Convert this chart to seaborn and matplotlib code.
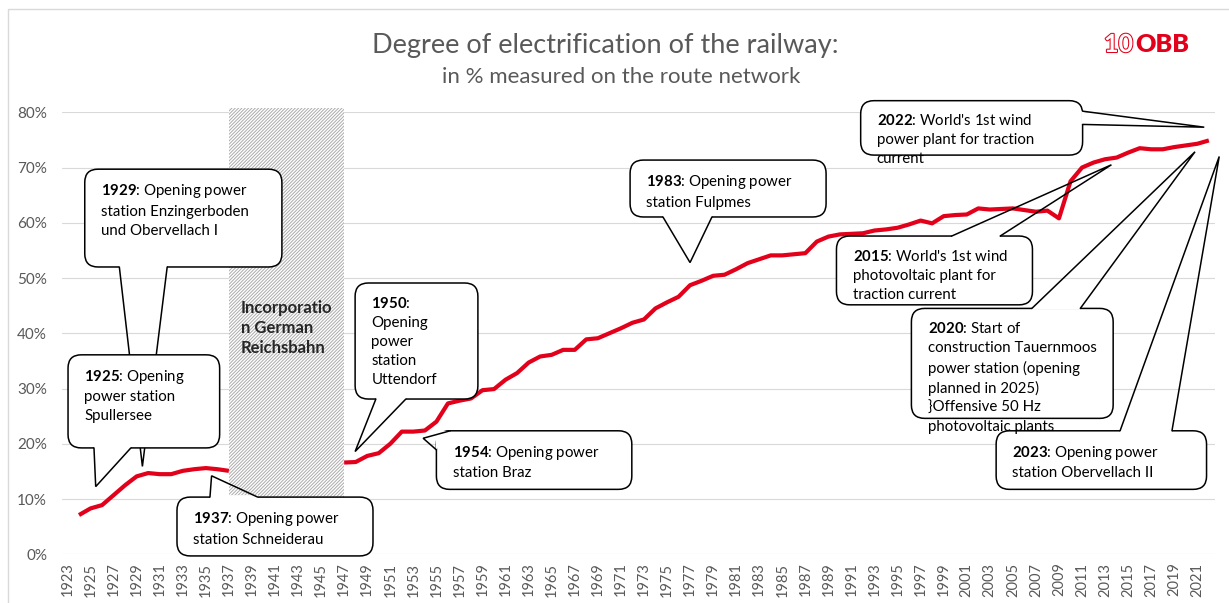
import matplotlib.pyplot as plt
import seaborn as sns
import pandas as pd
import numpy as np
from matplotlib.patches import FancyBboxPatch, Rectangle, Polygon
import matplotlib.patheffects as pe

sns.set_style("white")
plt.rcParams["font.family"] = ["Lato", "DejaVu Sans"]
plt.rcParams["mathtext.fontset"] = "custom"
plt.rcParams["mathtext.rm"] = "Lato"
plt.rcParams["mathtext.bf"] = "Lato:bold"
plt.rcParams["hatch.linewidth"] = 0.7

RED = "#E2001A"
GREY = "#595959"

# Elektrifizierungsgrad in % (None = keine Daten)
years = list(range(1923, 2023))
share = [
    None, 7.1, 8.3, 8.9, 10.7, 12.5, 14.1, 14.7, 14.5, 14.5,          # 1923-1932
    15.1, 15.4, 15.6, 15.4, 15.1, None, None, None, None, None,       # 1933-1942
    None, None, None, None, 16.6, 16.7, 17.8, 18.3, 20.0, 22.2,       # 1943-1952
    22.2, 22.4, 24.0, 27.3, 27.8, 28.2, 29.7, 29.9, 31.6, 32.8,       # 1953-1962
    34.7, 35.8, 36.1, 37.0, 37.0, 38.9, 39.1, 40.0, 40.9, 41.9,       # 1963-1972
    42.5, 44.5, 45.6, 46.6, 48.7, 49.5, 50.4, 50.6, 51.6, 52.7,       # 1973-1982
    53.4, 54.1, 54.1, 54.3, 54.5, 56.6, 57.5, 57.9, 58.0, 58.1,       # 1983-1992
    58.6, 58.8, 59.1, 59.7, 60.4, 59.9, 61.2, 61.4, 61.5, 62.6,       # 1993-2002
    62.4, 62.5, 62.6, 62.3, 62.0, 62.2, 60.8, 67.5, 70.0, 70.9,       # 2003-2012
    71.5, 71.8, 72.7, 73.5, 73.3, 73.3, 73.7, 74.0, 74.3, 74.9,       # 2013-2022
]

# Reichsbahn period (hatched)
rb_start, rb_end = 1937, 1947

df = pd.DataFrame({"year": years, "share": share}).dropna()
df["period"] = np.where(df["year"] < rb_start + 1, "pre", "post")

fig = plt.figure(figsize=(12.29, 6.03), dpi=100)
ax = fig.add_axes([0.0502, 0.0808, 0.9381, 0.7330])

# Rahmen
fig.patches.append(Rectangle((8 / 1229, -0.1), 1.2, 1 - 9 / 603 + 0.1, transform=fig.transFigure,
                             fill=False, ec="#d9d9d9", lw=1.0))

ax.axvspan(rb_start, rb_end, ymin=0, ymax=80.7 / 80, fc="white", ec="#ababab", hatch="//////////",
           lw=0, zorder=1, clip_on=False)
ax.text(rb_start + 1.03, 46.0, "Incorporatio\nn German\nReichsbahn", fontsize=12, weight="bold",
        color="#262626", va="top", ha="left", linespacing=1.3, zorder=2)

sns.lineplot(data=df, x="year", y="share", units="period", estimator=None, color=RED, lw=3,
             solid_joinstyle="round", solid_capstyle="butt", ax=ax, zorder=2.5, legend=False)

ax.set_xlim(1922.5, 2022.5)
ax.set_ylim(0, 80)
ax.set_xticks(years[::2])
ax.set_xticklabels([str(y) for y in years[::2]], rotation=90, fontsize=10.5, color=GREY)
ax.set_yticks(range(0, 81, 10))
ax.set_yticklabels([f"{v}%" for v in range(0, 81, 10)], fontsize=11, color=GREY)
ax.tick_params(axis="x", length=0, pad=6.0)
ax.tick_params(axis="y", length=0, pad=10.5)
ax.yaxis.grid(True, color="#d9d9d9", lw=0.8)
ax.set_axisbelow(True)
ax.set_xlabel("")
ax.set_ylabel("")
for s in ax.spines.values():
    s.set_visible(False)

# Sprechblasen: (x0, x1, y0, y1), Basis, Spitze, Ecke, Text
callouts = [
    ((1924.5, 1941.6, 52.0, 69.7), ((1927.5, 52.0), (1931.65, 52.0)), (1929.5, 15.9), None,
     "$\\mathbf{1929}$: Opening power\nstation Enzingerboden\nund Obervellach I"),
    ((1923.05, 1936.2, 19.25, 36.1), ((1925.3, 19.25), (1928.5, 19.25)), (1925.45, 12.25), None,
     "$\\mathbf{1925}$: Opening\npower station\nSpullersee"),
    ((1932.5, 1949.5, -0.3, 10.35), ((1935.36, 10.35), (1939.5, 10.35)), (1935.5, 14.2), None,
     "$\\mathbf{1937}$: Opening power\nstation Schneiderau"),
    ((1947.95, 1958.6, 28.1, 49.1), ((1949.75, 28.1), (1952.35, 28.1)), (1947.95, 18.6), None,
     "$\\mathbf{1950}$:\nOpening\npower\nstation\nUttendorf"),
    ((1955.0, 1971.95, 11.75, 22.35), ((1956.2, 22.35), (1955.0, 18.9)), (1953.85, 21.0), (1955.0, 22.35),
     "$\\mathbf{1954}$: Opening power\nstation Braz"),
    ((1971.8, 1988.8, 61.05, 71.35), ((1974.65, 61.05), (1978.9, 61.05)), (1977.0, 52.8), None,
     "$\\mathbf{1983}$: Opening power\nstation Fulpmes"),
    ((1991.8, 2011.05, 72.25, 82.1), ((2011.05, 80.2), (2011.05, 77.8)), (2021.6, 77.3), None,
     "$\\mathbf{2022}$: World's 1st wind\npower plant for traction\ncurrent"),
    ((1989.7, 2006.7, 45.15, 57.6), ((1999.7, 57.6), (2003.9, 57.6)), (2013.55, 70.5), None,
     "$\\mathbf{2015}$: World's 1st wind\nphotovoltaic plant for\ntraction current"),
    ((1996.2, 2013.7, 24.6, 44.5), ((2006.65, 44.5), (2010.85, 44.5)), (2020.8, 72.85), None,
     "$\\mathbf{2020}$: Start of\nconstruction Tauernmoos\npower station (opening\nplanned in 2025)\n}Offensive 50 Hz\nphotovoltaic plants"),
    ((2003.55, 2021.8, 11.75, 22.35), ((2014.3, 22.35), (2018.8, 22.35)), (2022.9, 72.0), None,
     "$\\mathbf{2023}$: Opening power\nstation Obervellach II"),
]

z = 3
for (x0, x1, y0, y1), base, tip, corner, txt in callouts:
    ax.add_patch(FancyBboxPatch((x0, y0), x1 - x0, y1 - y0, boxstyle="round,pad=0,rounding_size=1.15",
                                mutation_aspect=2.087, fc="white", ec="black", lw=1.1, zorder=z,
                                clip_on=False))
    (bx1, by1), (bx2, by2) = base
    if corner is None:
        ax.plot([bx1, bx2], [by1, by2], color="white", lw=2.6, solid_capstyle="butt",
                zorder=z + 0.01, clip_on=False)
    else:
        ax.add_patch(Polygon([base[0], corner, base[1]], closed=True, fc="white", ec="none",
                             zorder=z + 0.01, clip_on=False))
    ax.plot([bx1, tip[0], bx2], [by1, tip[1], by2], color="black", lw=1.1,
            solid_joinstyle="miter", zorder=z + 0.02, clip_on=False)
    ax.text(x0 + 1.4, y1 - 2.3, txt, fontsize=10.8, color="black", va="top", ha="left",
            linespacing=1.45, zorder=30)
    z += 1

# Titel
fig.text(0.4927, 1 - 53.3 / 603, "Degree of electrification of the railway:", fontsize=19.5,
         color=GREY, ha="center", va="baseline")
fig.text(0.5057, 1 - 83.3 / 603, "in % measured on the route network", fontsize=16,
         color=GREY, ha="center", va="baseline")

# Logo
fig.text(1104 / 1229, 1 - 52 / 603, "10", fontsize=18, weight="bold", color="white",
         va="baseline", path_effects=[pe.withStroke(linewidth=1.5, foreground=RED)])
fig.text(1135 / 1229, 1 - 52 / 603, "OBB", fontsize=18, weight="heavy", color=RED, va="baseline")

fig.savefig("out.png", dpi=100)
